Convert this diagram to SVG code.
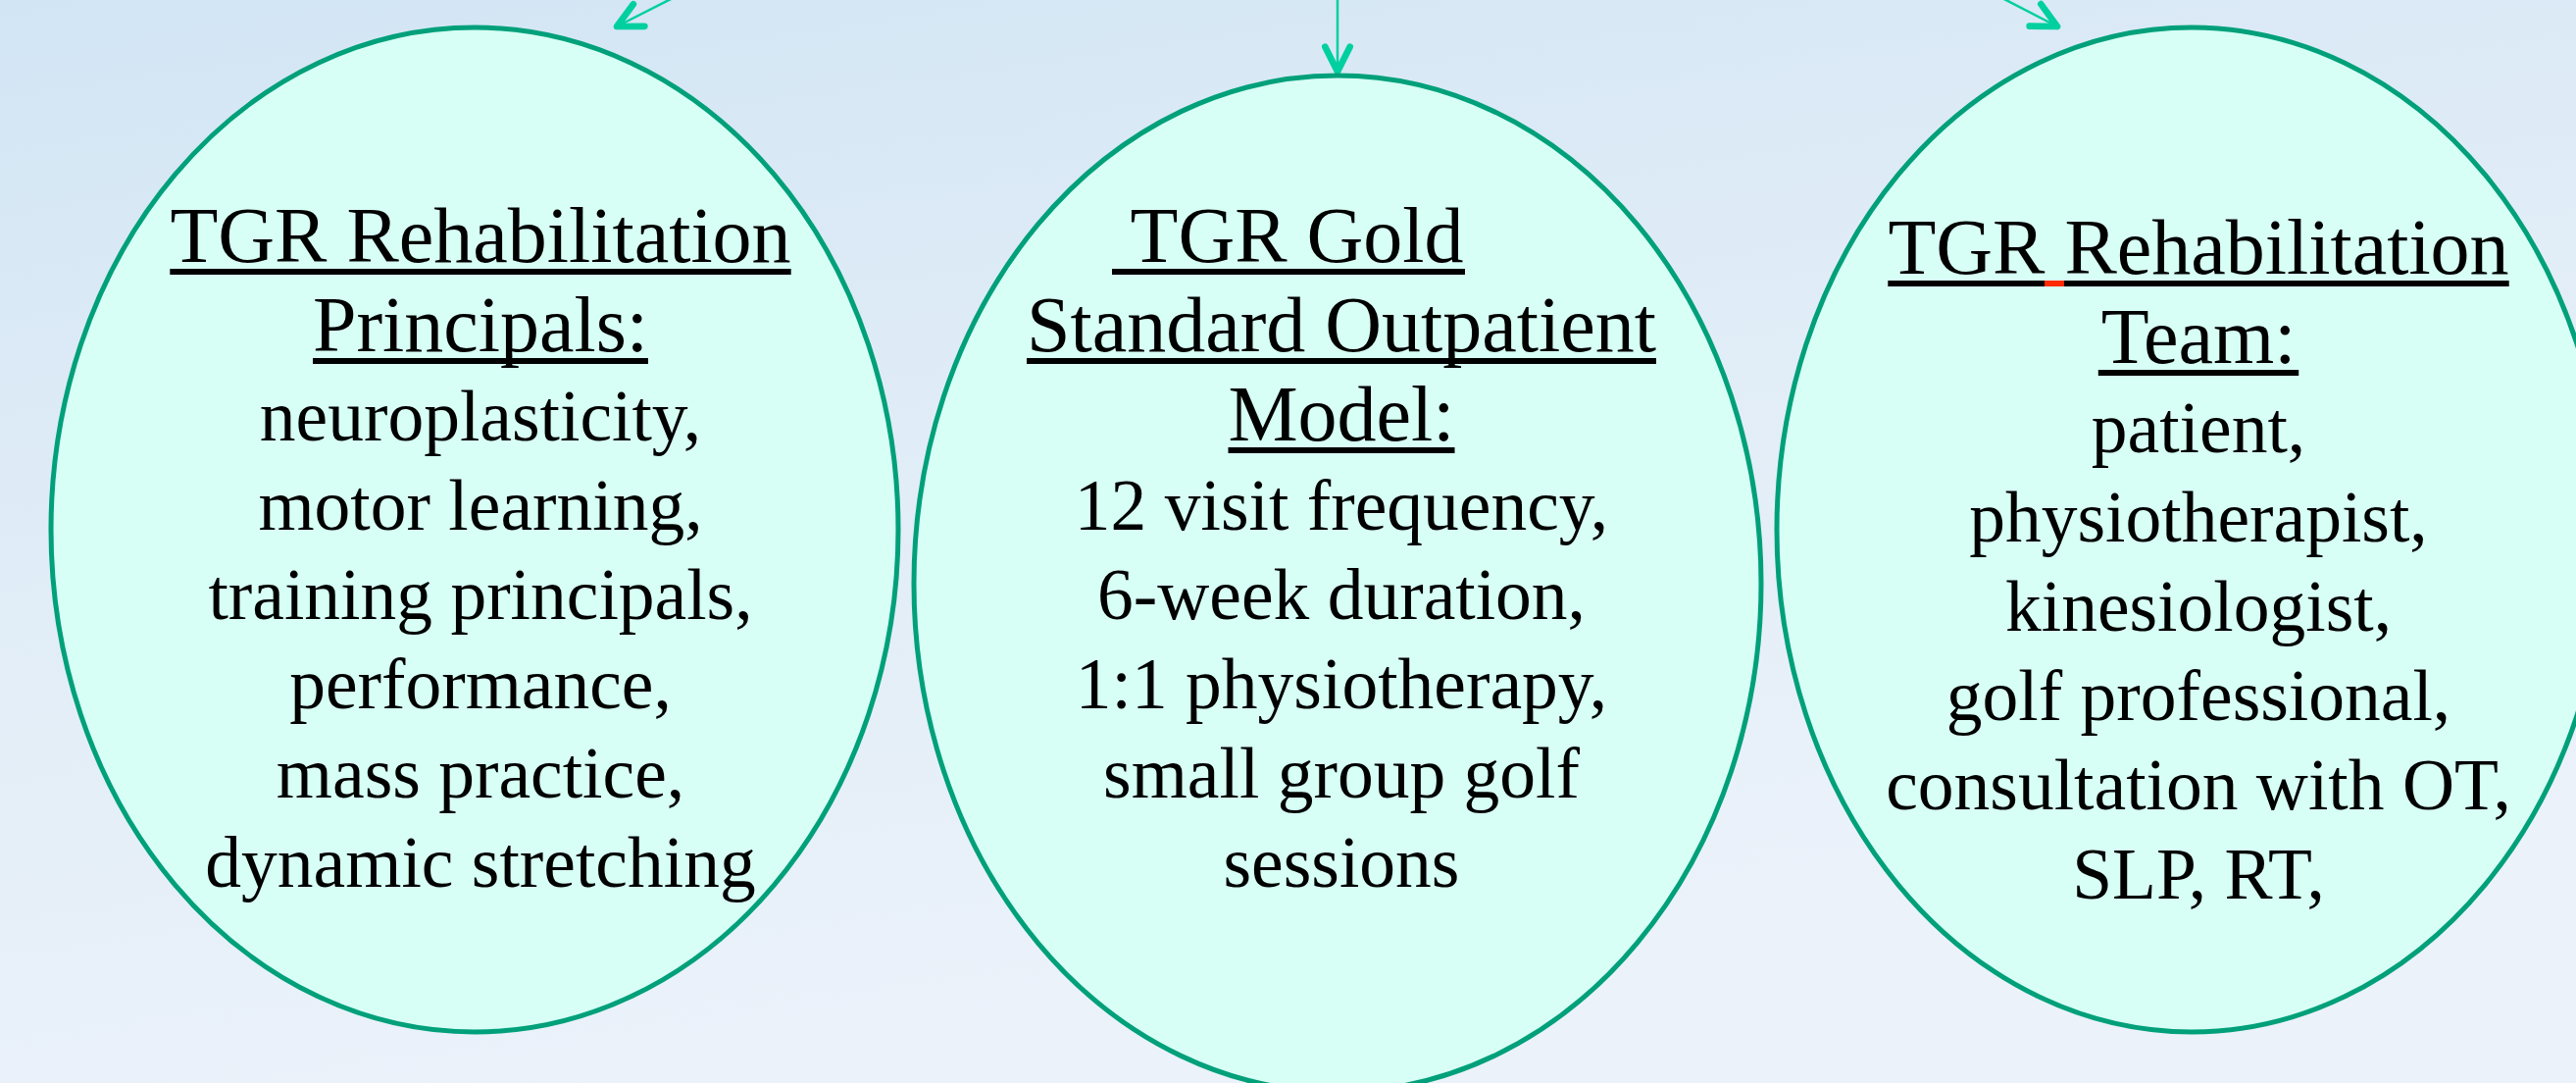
<svg xmlns="http://www.w3.org/2000/svg" width="2627" height="1104" viewBox="0 0 2627 1104">
<defs>
<linearGradient id="bg" x1="0" y1="0" x2="0.35" y2="1">
<stop offset="0" stop-color="#D2E5F4"/>
<stop offset="0.5" stop-color="#E1EDF7"/>
<stop offset="1" stop-color="#ECF2FA"/>
</linearGradient>
<marker id="ah" markerUnits="userSpaceOnUse" markerWidth="40" markerHeight="40" viewBox="-25 -15 30 30" refX="0" refY="0" orient="auto" overflow="visible">
<path d="M -19 -9.5 L 0 0 L -19 9.5" fill="none" stroke="#00CFA0" stroke-width="5" stroke-linecap="round" stroke-linejoin="round"/>
</marker>
<style>
.node ellipse{fill:#D7FFF5;stroke:#00A07A;stroke-width:5}
.node text{font-family:"Liberation Serif","Times New Roman",serif;font-size:80px;fill:#000;text-anchor:middle}
.node text.b{font-size:73.5px}
.node text.st{text-anchor:start}
.ul{fill:#000}
.conn line{stroke:#00CFA0;stroke-width:2.5;fill:none}
</style>
</defs>
<rect width="2627" height="1104" fill="url(#bg)"/>
<g id="connectors" class="conn">
<line x1="692" y1="-5" x2="629" y2="27" marker-end="url(#ah)"/>
<line x1="1364" y1="-5" x2="1364" y2="73" marker-end="url(#ah)"/>
<line x1="2036" y1="-5" x2="2098" y2="27" marker-end="url(#ah)"/>
</g>
<g id="node-principals" class="node">
<ellipse cx="484" cy="540" rx="432" ry="512"/>
<text x="490" y="267">TGR Rehabilitation</text>
<rect class="ul" x="173.3" y="274" width="633.4" height="6"/>
<text x="490" y="358">Principals:</text>
<rect class="ul" x="319" y="365" width="342" height="6"/>
<text class="b" x="490" y="449">neuroplasticity,</text>
<text class="b" x="490" y="540">motor learning,</text>
<text class="b" x="490" y="631">training principals,</text>
<text class="b" x="490" y="722">performance,</text>
<text class="b" x="490" y="813">mass practice,</text>
<text class="b" x="490" y="904">dynamic stretching</text>
</g>
<g id="node-model" class="node">
<ellipse cx="1364" cy="595" rx="432" ry="518"/>
<text class="st" x="1134" y="267" xml:space="preserve"> TGR Gold</text>
<rect class="ul" x="1134" y="274" width="360" height="6"/>
<text x="1368" y="358">Standard Outpatient</text>
<rect class="ul" x="1047" y="365" width="642" height="6"/>
<text x="1368" y="449">Model:</text>
<rect class="ul" x="1252.5" y="456" width="231" height="6"/>
<text class="b" x="1368" y="540">12 visit frequency,</text>
<text class="b" x="1368" y="631">6-week duration,</text>
<text class="b" x="1368" y="722">1:1 physiotherapy,</text>
<text class="b" x="1368" y="813">small group golf</text>
<text class="b" x="1368" y="904">sessions</text>
</g>
<g id="node-team" class="node">
<ellipse cx="2235" cy="540" rx="423" ry="512"/>
<text x="2242" y="279">TGR Rehabilitation</text>
<rect class="ul" x="1925.3" y="286" width="633.4" height="6"/>
<rect x="2085" y="286" width="20" height="6" fill="#FF2A00"/>
<text x="2242" y="370">Team:</text>
<rect class="ul" x="2139.8" y="377" width="204.4" height="6"/>
<text class="b" x="2242" y="461">patient,</text>
<text class="b" x="2242" y="552">physiotherapist,</text>
<text class="b" x="2242" y="643">kinesiologist,</text>
<text class="b" x="2242" y="734">golf professional,</text>
<text class="b" x="2242" y="825">consultation with OT,</text>
<text class="b" x="2242" y="916">SLP, RT,</text>
</g>
</svg>
